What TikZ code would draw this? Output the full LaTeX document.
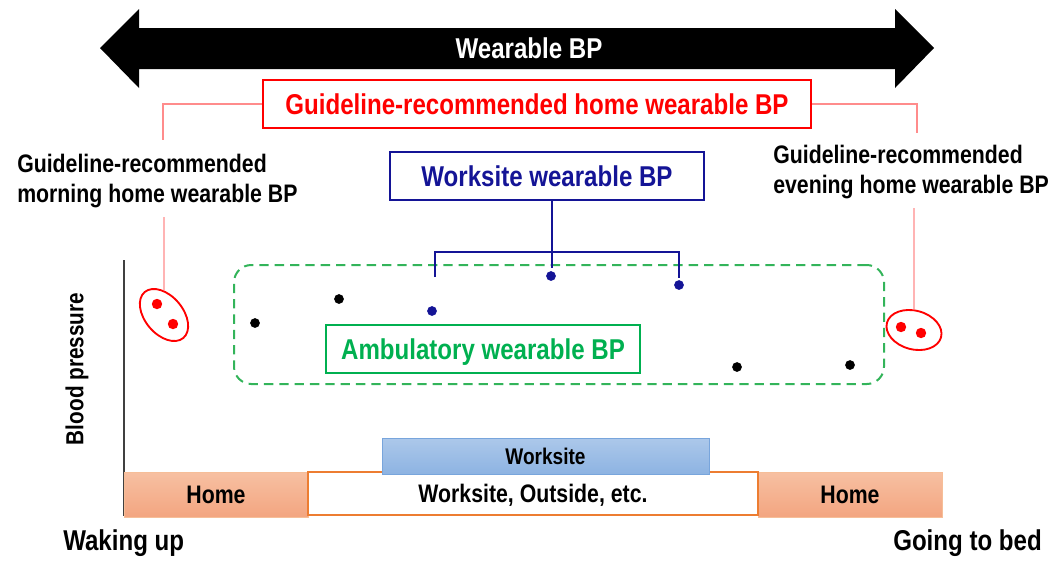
\documentclass[tikz,border=0pt]{standalone}
\usepackage{fontspec}
\setmainfont{Liberation Sans}[FakeStretch=0.84]
\usepackage{tikz}
\usetikzlibrary{shapes.geometric}

\definecolor{gred}{RGB}{255,0,0}
\definecolor{gpink}{RGB}{255,140,140}
\definecolor{wblue}{RGB}{20,20,150}
\definecolor{agreen}{RGB}{0,176,80}
\definecolor{dgreen}{RGB}{51,180,90}
\definecolor{salmonT}{RGB}{247,192,162}
\definecolor{salmonB}{RGB}{243,165,128}
\definecolor{obord}{RGB}{237,125,49}
\definecolor{wsT}{RGB}{172,200,234}
\definecolor{wsB}{RGB}{141,179,226}
\definecolor{wsbord}{RGB}{120,165,220}

\begin{document}
\begin{tikzpicture}[
  x=0.75pt, y=-0.75pt,
  big/.style={font=\fontsize{21.5}{25}\selectfont\bfseries, text height=15.4pt, text depth=0pt},
  mid/.style={font=\fontsize{19}{22.5}\selectfont\bfseries, text height=13.6pt, text depth=0pt},
  redbox/.style={draw=gred, line width=1.5pt, text=gred, inner sep=0, minimum width=411pt, minimum height=36pt, big},
  wsbox/.style={draw=wblue, line width=1.5pt, text=wblue, inner sep=0, minimum width=235.5pt, minimum height=36pt, big},
  ambbox/.style={draw=agreen, line width=1.5pt, text=agreen, inner sep=0, minimum width=235.5pt, minimum height=36pt, big},
  dashbox/.style={draw=dgreen, line width=1.5pt, dash pattern=on 7pt off 4.5pt, rounded corners=13pt, minimum width=487.5pt, minimum height=89.25pt},
  home/.style={draw=obord!50, line width=0.6pt, top color=salmonT, bottom color=salmonB, inner sep=0, minimum width=138pt, minimum height=33.75pt, mid},
  away/.style={draw=obord, line width=1.1pt, fill=white, inner sep=0, minimum width=337.5pt, minimum height=32.25pt, mid},
  worksite/.style={draw=wsbord, line width=0.6pt, top color=wsT, bottom color=wsB, inner sep=0, minimum width=245.25pt, minimum height=27pt, font=\fontsize{17}{20}\selectfont\bfseries, text height=12.2pt, text depth=0pt},
  sidetxt/.style={font=\fontsize{19}{22.5}\selectfont\bfseries, align=left, anchor=base west, inner sep=0},
  oval/.style={ellipse, draw=gred, line width=1.4pt, inner sep=0},
  dot/.style={circle, fill=#1, inner sep=0, minimum size=7.3pt},
  dot/.default=black,
  reddot/.style={dot=gred, minimum size=7.8pt},
  pinkline/.style={draw=gpink, line width=0.8pt},
  wline/.style={draw=wblue, line width=1.5pt}
]
\useasboundingbox (0,0) rectangle (1053,562);

% top arrow
\fill[black] (100,48) -- (139,9) -- (139,28) -- (895,28) -- (895,9) -- (934,48)
  -- (895,88) -- (895,69) -- (139,69) -- (139,88) -- cycle;
\node[big, text=white] (wb) at (529,48) {Wearable BP};

\node[redbox] (gh) at (537,104) {Guideline-recommended home wearable BP};

\node[sidetxt] (mt) at (17,202) {Guideline-recommended\\morning home wearable BP};
\node[sidetxt] (et) at (773,193) {Guideline-recommended\\evening home wearable BP};

\node[wsbox] (ws) at (547,176) {Worksite wearable BP};

% ambulatory area
\node[dashbox] (amb) at (559,324.5) {};
\node[ambbox] (ab) at (483,349) {Ambulatory wearable BP};

% readings
\node[oval, minimum width=45pt, minimum height=28.5pt, rotate=-50] (me) at (164,315) {};
\node[reddot] (m1) at (157,304) {};
\node[reddot] (m2) at (173,324) {};
\node[oval, minimum width=42pt, minimum height=29pt, rotate=-15] (ee) at (914,330) {};
\node[reddot] (e1) at (901,327) {};
\node[reddot] (e2) at (921,333) {};

\node[dot] (a1) at (255,323) {};
\node[dot] (a2) at (339,299) {};
\node[dot=wblue] (w1) at (432,311) {};
\node[dot=wblue] (w2) at (551,276) {};
\node[dot=wblue] (w3) at (679,285) {};
\node[dot] (a3) at (737,367) {};
\node[dot] (a4) at (850,365) {};

% red guide lines
\coordinate (ml1) at (163,140);
\coordinate (ml2) at (164,217);
\coordinate (el1) at (917,133);
\coordinate (el2) at (914,208);
\draw[pinkline] (gh.west) -| (ml1);
\draw[pinkline] (ml2) -- (me);
\draw[pinkline] (gh.east) -| (el1);
\draw[pinkline] (el2) -- (ee);

% worksite bracket
\coordinate (bk) at (552,252);
\coordinate (wl) at (435,277);
\coordinate (wm) at (552,268);
\coordinate (wr) at (679,278);
\draw[wline] (bk |- ws.south) -- (bk);
\draw[wline] (wl) -- (wl |- bk) -- (wr |- bk) -- (wr);
\draw[wline] (bk) -- (wm);

% axis
\draw[black!75, line width=1.1pt] (124,260) -- (124,516);
\node[font=\fontsize{18.5}{22}\selectfont\bfseries, rotate=90] (bp) at (77,369) {Blood pressure};

% day bar
\node[home] (h1) at (216,494.5) {Home};
\node[home] (h2) at (850,494.5) {Home};
\node[away] (wo) at (533,493.5) {Worksite, Outside, etc.};
\node[worksite] (wk) at (545.5,456) {Worksite};

\node[big, anchor=base west, inner sep=0] (wu) at (63,550) {Waking up};
\node[big, anchor=base east, inner sep=0] (gb) at (1042,550) {Going to bed};
\end{tikzpicture}
\end{document}
